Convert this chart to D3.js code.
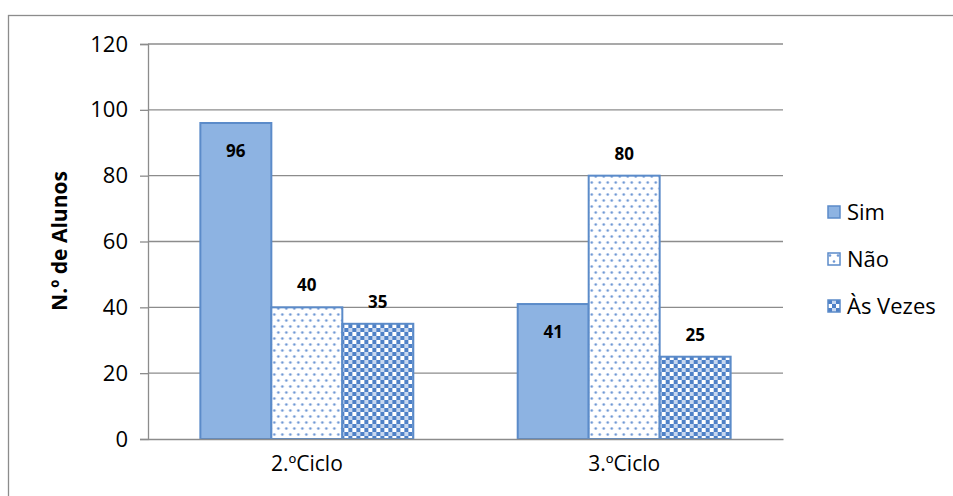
<!DOCTYPE html>
<html>
<head>
<meta charset="utf-8">
<script src="https://cdn.jsdelivr.net/npm/d3@7"></script>
<style>
  html, body { margin: 0; padding: 0; background: #fff; }
  svg { display: block; font-family: "Open Sans", "Liberation Sans", sans-serif; }
</style>
</head>
<body>
<svg id="chart" width="953" height="496"></svg>
<script>
const categories = ["2.ºCiclo", "3.ºCiclo"];
const series = ["Sim", "Não", "Às Vezes"];
const sim = [96, 41];
const nao = [40, 80];
const asVezes = [35, 25];
const yTicks = [0, 20, 40, 60, 80, 100, 120];

const values = [sim, nao, asVezes];
const fills = ["#8db3e2", "url(#dots)", "url(#checks)"];
const stroke = "#5b8bc9";
const gray = "#8c8c8c";
const font = '"Open Sans", sans-serif';

const svg = d3.select("#chart");
const plot = { left: 148, right: 783, top: 44, bottom: 439 };

// patterns
const defs = svg.append("defs");
const dots = defs.append("pattern").attr("id", "dots")
  .attr("patternUnits", "userSpaceOnUse").attr("width", 8).attr("height", 12);
dots.append("rect").attr("width", 8).attr("height", 12).attr("fill", "#fff");
dots.append("circle").attr("cx", 2).attr("cy", 2.5).attr("r", 1.3).attr("fill", "#6f98d4");
dots.append("circle").attr("cx", 6).attr("cy", 8.5).attr("r", 1.3).attr("fill", "#6f98d4");

const checks = defs.append("pattern").attr("id", "checks")
  .attr("patternUnits", "userSpaceOnUse").attr("width", 8).attr("height", 8);
checks.append("rect").attr("width", 8).attr("height", 8).attr("fill", "#fff");
checks.append("rect").attr("width", 4).attr("height", 4).attr("fill", "#4f81c7");
checks.append("rect").attr("x", 4).attr("y", 4).attr("width", 4).attr("height", 4).attr("fill", "#4f81c7");
checks.append("rect").attr("x", 4).attr("y", 0).attr("width", 4).attr("height", 4).attr("fill", "#c8d8f0");

// outer frame (clipped at right and bottom like the source)
svg.append("rect")
  .attr("x", 8.5).attr("y", 15.5)
  .attr("width", 1000).attr("height", 1000)
  .attr("fill", "none").attr("stroke", gray).attr("stroke-width", 1.3);

const x0 = d3.scaleBand().domain(categories)
  .range([plot.left, plot.right])
  .paddingInner(0.329).paddingOuter(0.165);
const x1 = d3.scaleBand().domain(series).range([0, x0.bandwidth()]);
const y = d3.scaleLinear().domain([0, 120]).range([plot.bottom, plot.top]);

// gridlines
svg.append("g").selectAll("line").data(yTicks.slice(1)).join("line")
  .attr("x1", plot.left).attr("x2", plot.right)
  .attr("y1", d => y(d)).attr("y2", d => y(d))
  .attr("stroke", gray).attr("stroke-width", 1.3);

// y axis
const yAxis = svg.append("g")
  .attr("transform", `translate(${plot.left},0)`)
  .call(d3.axisLeft(y).tickValues(yTicks).tickSize(8).tickPadding(12));
yAxis.select(".domain").attr("stroke", gray).attr("stroke-width", 1.3);
yAxis.selectAll(".tick line").attr("stroke", gray).attr("stroke-width", 1.3);
yAxis.selectAll(".tick text").attr("fill", "#000")
  .style("font-size", "22px").style("font-family", font);

// bars
const groups = svg.append("g").selectAll("g").data(categories).join("g")
  .attr("transform", d => `translate(${x0(d)},0)`);

groups.each(function(cat, ci) {
  const g = d3.select(this);
  series.forEach((s, si) => {
    const v = values[si][ci];
    g.append("rect")
      .attr("x", x1(s)).attr("y", y(v))
      .attr("width", x1.bandwidth()).attr("height", y(0) - y(v))
      .attr("fill", fills[si]).attr("stroke", stroke).attr("stroke-width", 2);
    g.append("text")
      .attr("x", x1(s) + x1.bandwidth() / 2)
      .attr("y", si === 0 ? y(v) + 34 : y(v) - 16)
      .attr("text-anchor", "middle")
      .style("font-size", "17px").style("font-weight", "bold")
      .text(v);
  });
});

// x axis
const xAxis = svg.append("g")
  .attr("transform", `translate(0,${plot.bottom})`)
  .call(d3.axisBottom(x0).tickSize(0).tickPadding(17));
xAxis.select(".domain").attr("stroke", gray).attr("stroke-width", 1.3);
xAxis.selectAll(".tick text").attr("fill", "#000")
  .style("font-size", "21px").style("font-family", font);

// y title
svg.append("text")
  .attr("transform", "translate(67,241) rotate(-90)")
  .attr("text-anchor", "middle")
  .style("font-size", "21px").style("font-weight", "bold")
  .text("N.º de Alunos");

// legend
const legend = svg.append("g").selectAll("g").data(series).join("g")
  .attr("transform", (d, i) => `translate(828,${206 + i * 47})`);
legend.append("rect")
  .attr("width", 12).attr("height", 12)
  .attr("fill", (d, i) => fills[i]).attr("stroke", stroke).attr("stroke-width", 1.5);
legend.append("text")
  .attr("x", 19).attr("y", 14)
  .style("font-size", "22px")
  .text(d => d);
</script>
</body>
</html>
